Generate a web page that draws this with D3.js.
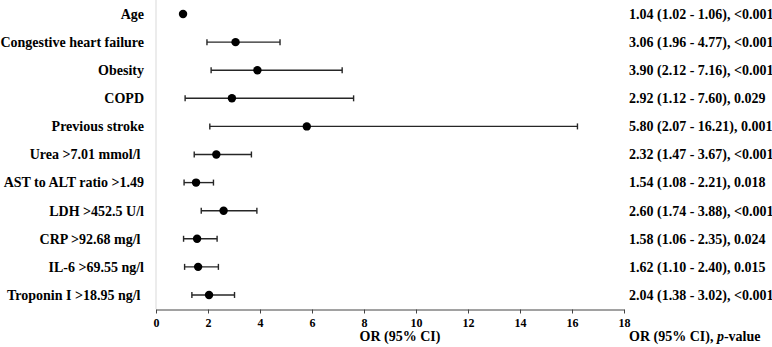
<!DOCTYPE html>
<html>
<head>
<meta charset="utf-8">
<script src="https://cdn.jsdelivr.net/npm/d3@7"></script>
<style>
  body { margin: 0; background: #fff; }
  svg text { font-family: "Liberation Serif", "Times New Roman", serif; font-weight: bold; fill: #000; white-space: pre; }
</style>
</head>
<body>
<svg id="chart" width="772" height="347"></svg>
<script>
// forest plot data
const factors = ["Age", "Congestive heart failure", "Obesity", "COPD", "Previous stroke",
  "Urea >7.01 mmol/l ", "AST to ALT ratio >1.49", "LDH >452.5 U/l", "CRP >92.68 mg/l ",
  "IL-6 >69.55 ng/l", "Troponin I >18.95 ng/l "]
const oddsRatio = [1.04, 3.06, 3.90, 2.92, 5.80, 2.32, 1.54, 2.60, 1.58, 1.62, 2.04]
const ciLow = [1.02, 1.96, 2.12, 1.12, 2.07, 1.47, 1.08, 1.74, 1.06, 1.10, 1.38]
const ciHigh = [1.06, 4.77, 7.16, 7.60, 16.21, 3.67, 2.21, 3.88, 2.35, 2.40, 3.02]
const pValues = ["<0.001", "<0.001", "<0.001", "0.029", "0.001", "<0.001", "0.018", "<0.001", "0.024", "0.015", "<0.001"]
const xTicks = [0, 2, 4, 6, 8, 10, 12, 14, 16, 18]

const rows = factors.map((f, i) => ({
  name: f, or: oddsRatio[i], lo: ciLow[i], hi: ciHigh[i], p: pValues[i]
}))

const svg = d3.select("#chart")

const x = d3.scaleLinear().domain([0, 18]).range([156, 624])
const y = d3.scaleBand().domain(factors).range([0, 309])
const yc = d => y(d) + y.bandwidth() / 2

// light vertical reference line at 0
svg.append("line")
  .attr("x1", x(0)).attr("x2", x(0))
  .attr("y1", 0).attr("y2", 309)
  .attr("stroke", "#d9d9d9").attr("stroke-width", 1)

// x axis
const xAxis = svg.append("g")
  .attr("transform", "translate(0,309.5)")
  .call(d3.axisBottom(x).tickValues(xTicks).tickSize(4).tickSizeOuter(0).tickPadding(5))
xAxis.select(".domain").attr("stroke", "#444")
xAxis.selectAll(".tick line").attr("stroke", "#444")
xAxis.selectAll(".tick text")
  .style("font-family", "'Liberation Serif', serif")
  .style("font-weight", "bold")
  .style("font-size", "12px")
  .attr("fill", "#000")

svg.append("text")
  .attr("x", 400).attr("y", 341)
  .attr("text-anchor", "middle")
  .style("font-size", "14px")
  .text("OR (95% CI)")

const rt = svg.append("text")
  .attr("x", 629).attr("y", 341)
  .style("font-size", "14px")
rt.append("tspan").text("OR (95% CI), ")
rt.append("tspan").style("font-style", "italic").text("p")
rt.append("tspan").text("-value")

// left labels
svg.selectAll(".label")
  .data(rows)
  .enter()
  .append("text")
  .attr("class", "label")
  .attr("x", 144)
  .attr("y", d => yc(d.name))
  .attr("dy", "0.35em")
  .attr("text-anchor", "end")
  .style("font-size", "14px")
  .text(d => d.name)

// right estimate text
svg.selectAll(".est")
  .data(rows)
  .enter()
  .append("text")
  .attr("class", "est")
  .attr("x", 629)
  .attr("y", d => yc(d.name))
  .attr("dy", "0.35em")
  .style("font-size", "14px")
  .text(d => d.or.toFixed(2) + " (" + d.lo.toFixed(2) + " - " + d.hi.toFixed(2) + "), " + d.p)

// error bars
const bars = svg.selectAll(".ci")
  .data(rows)
  .enter()
  .append("g")
  .attr("class", "ci")
  .attr("stroke", "#262626")
  .attr("stroke-width", 1.4)

bars.append("line")
  .attr("x1", d => x(d.lo)).attr("x2", d => x(d.hi))
  .attr("y1", d => yc(d.name)).attr("y2", d => yc(d.name))
bars.append("line")
  .attr("x1", d => x(d.lo)).attr("x2", d => x(d.lo))
  .attr("y1", d => yc(d.name) - 3).attr("y2", d => yc(d.name) + 3)
bars.append("line")
  .attr("x1", d => x(d.hi)).attr("x2", d => x(d.hi))
  .attr("y1", d => yc(d.name) - 3).attr("y2", d => yc(d.name) + 3)

// points
svg.selectAll(".pt")
  .data(rows)
  .enter()
  .append("circle")
  .attr("class", "pt")
  .attr("cx", d => x(d.or))
  .attr("cy", d => yc(d.name))
  .attr("r", 4.2)
  .attr("fill", "#000")
</script>
</body>
</html>
